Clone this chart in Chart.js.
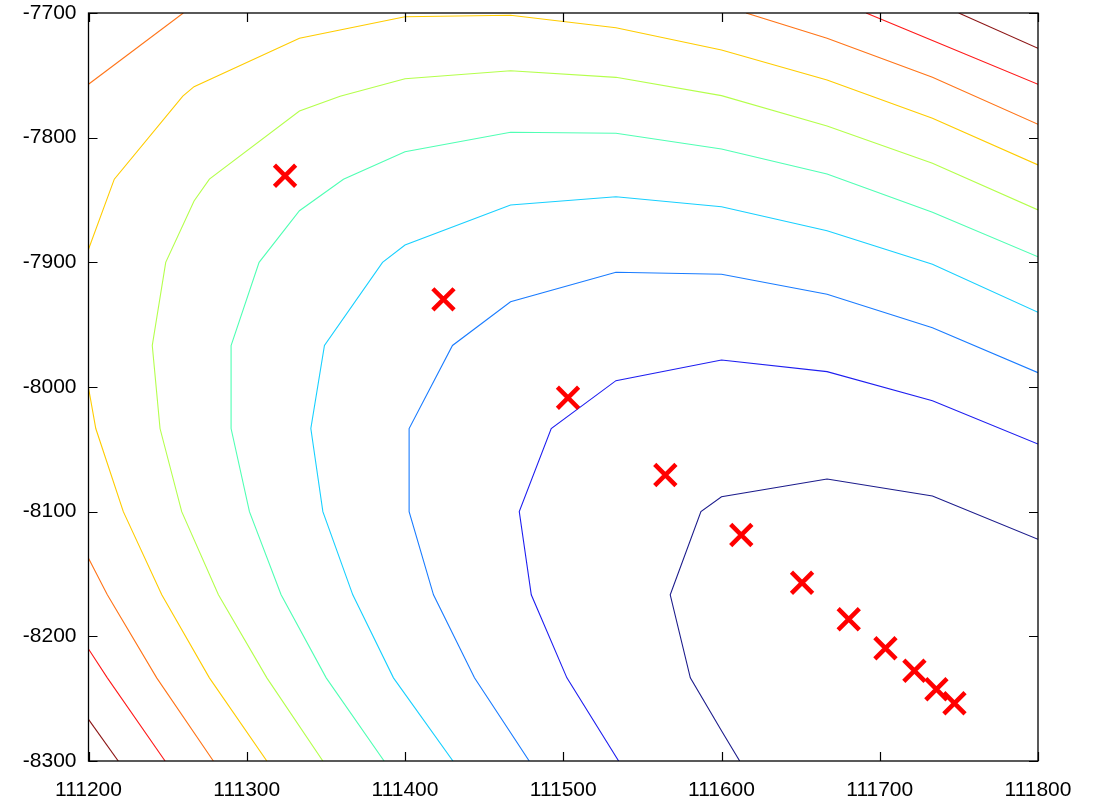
<!DOCTYPE html>
<html>
<head>
<meta charset="utf-8">
<script src="https://cdn.jsdelivr.net/npm/chart.js@4/dist/chart.umd.min.js"></script>
<style>
  html, body { margin: 0; padding: 0; background: #ffffff; }
  #wrap { width: 1097px; height: 799px; }
</style>
</head>
<body>
<div id="wrap"><canvas id="c" width="1097" height="799"></canvas></div>
<script>
// Contour levels, from the deepest (navy) to the highest (dark red); each level is one or more polylines
const navyLine = [[111611.5,-8300],[111600,-8275.7],[111580.3,-8233.3],[111567.6,-8166.7],[111587,-8100],[111600,-8088],[111666.7,-8073.8],[111733.3,-8087.4],[111800,-8122.2]];
const blueLine = [[111535,-8300],[111502.3,-8233.3],[111479.8,-8166.7],[111472.2,-8100],[111492.4,-8033.3],[111533.3,-7994.9],[111600,-7978.3],[111666.7,-7987.7],[111733.3,-8011],[111800,-8045.7]];
const azureLine = [[111478.5,-8300],[111443.9,-8233.3],[111418,-8166.7],[111402.6,-8100],[111402.6,-8033.3],[111430,-7966.7],[111466.7,-7931.6],[111533.3,-7908],[111600,-7909.6],[111666.7,-7925.6],[111733.3,-7952.4],[111800,-7988.5]];
const cyanLine = [[111430.3,-8300],[111392.7,-8233.3],[111367,-8166.7],[111348.1,-8100],[111340.5,-8033.3],[111349.1,-7966.7],[111385.8,-7900],[111400,-7886.1],[111466.7,-7854],[111533.3,-7847.4],[111600,-7855.4],[111666.7,-7874.6],[111733.3,-7901.6],[111800,-7940.1]];
const aquaLine = [[111386.8,-8300],[111350.2,-8233.3],[111321.7,-8166.7],[111301.7,-8100],[111290.1,-8033.3],[111290.1,-7966.7],[111307.8,-7900],[111333.3,-7858.6],[111361.1,-7833.3],[111400,-7811.3],[111466.7,-7795.7],[111533.3,-7796.5],[111600,-7809.1],[111666.7,-7829.1],[111733.3,-7859.9],[111800,-7895.5]];
const limeLine = [[111348.1,-8300],[111312.7,-8233.3],[111282.1,-8166.7],[111258.9,-8100],[111245.2,-8033.3],[111240.3,-7966.7],[111248.8,-7900],[111266.7,-7850.8],[111276.4,-7833.3],[111333.3,-7778.6],[111359,-7766.7],[111400,-7752.7],[111466.7,-7746.3],[111533.3,-7751.6],[111600,-7766.3],[111666.7,-7790.6],[111733.3,-7820.6],[111800,-7858]];
const yellowUpper = [[111200,-7889.5],[111216.3,-7833.3],[111259.6,-7766.7],[111266.7,-7759.1],[111333.3,-7720.3],[111400,-7703],[111466.7,-7701.8],[111533.3,-7711.8],[111600,-7729.7],[111666.7,-7753.7],[111733.3,-7784.5],[111800,-7821.9]];
const yellowLower = [[111200,-8000.6],[111204.6,-8033.3],[111222,-8100],[111246.3,-8166.7],[111276.4,-8233.3],[111312.7,-8300]];
const orangeTopLeft = [[111200,-7757.2],[111259.9,-7700]];
const orangeTopRight = [[111615.5,-7700],[111666.7,-7720.3],[111733.3,-7751.6],[111800,-7789.3]];
const orangeLower = [[111200,-8137.4],[111211.9,-8166.7],[111243.1,-8233.3],[111278.9,-8300]];
const redTop = [[111691.4,-7700],[111733.3,-7722],[111800,-7757.2]];
const redLower = [[111200,-8210.2],[111211.9,-8233.3],[111248.4,-8300]];
const darkRedTop = [[111749.9,-7700],[111800,-7728.3]];
const darkRedLower = [[111200,-8266.6],[111218.8,-8300]];

// Sampled positions (red crosses)
const markerX = [111324.2, 111424.3, 111503.0, 111564.5, 111612.5, 111650.9, 111680.4, 111703.6, 111721.9, 111735.8, 111747.2];
const markerY = [-7830.5, -7929.7, -8008.6, -8070.6, -8118.7, -8157.0, -8186.3, -8209.6, -8227.6, -8242.5, -8253.7];

// Axis ticks
const xTicks = [111200, 111300, 111400, 111500, 111600, 111700, 111800];
const yTicks = [-8300, -8200, -8100, -8000, -7900, -7800, -7700];

const contourSets = [
  { pts: navyLine, color: '#1c1c8c' },
  { pts: blueLine, color: '#1e1ef0' },
  { pts: azureLine, color: '#1a7cff' },
  { pts: cyanLine, color: '#18d0ff' },
  { pts: aquaLine, color: '#50ffb4' },
  { pts: limeLine, color: '#b4ff4c' },
  { pts: yellowUpper, color: '#ffcc00' },
  { pts: yellowLower, color: '#ffcc00' },
  { pts: orangeTopLeft, color: '#ff7418' },
  { pts: orangeTopRight, color: '#ff7418' },
  { pts: orangeLower, color: '#ff7418' },
  { pts: redTop, color: '#ff1a1a' },
  { pts: redLower, color: '#ff1a1a' },
  { pts: darkRedTop, color: '#8c1414' },
  { pts: darkRedLower, color: '#8c1414' }
];

const datasets = [{
  label: 'markers',
  data: markerX.map((x, i) => ({ x: x, y: markerY[i] })),
  showLine: false,
  pointStyle: 'crossRot',
  pointRadius: 15,
  pointHoverRadius: 15,
  borderColor: '#ff0000',
  backgroundColor: '#ff0000',
  pointBorderWidth: 4.5,
  borderWidth: 4.5
}];
contourSets.forEach((c, i) => {
  datasets.push({
    label: 'level' + i,
    data: c.pts.map(p => ({ x: p[0], y: p[1] })),
    showLine: true,
    borderColor: c.color,
    borderWidth: 1.1,
    pointRadius: 0,
    tension: 0,
    fill: false
  });
});

// Frame around the plot with inward ticks on all four sides
const frameTicks = {
  id: 'frameTicks',
  afterDatasetsDraw(chart) {
    const { ctx, chartArea: a, scales } = chart;
    const len = 9;
    ctx.save();
    ctx.strokeStyle = '#000000';
    ctx.lineWidth = 1.2;
    ctx.beginPath();
    xTicks.forEach(v => {
      const px = Math.round(scales.x.getPixelForValue(v)) + 0.5;
      ctx.moveTo(px, a.bottom); ctx.lineTo(px, a.bottom - len);
      ctx.moveTo(px, a.top); ctx.lineTo(px, a.top + len);
    });
    yTicks.forEach(v => {
      const py = Math.round(scales.y.getPixelForValue(v)) + 0.5;
      ctx.moveTo(a.left, py); ctx.lineTo(a.left + len, py);
      ctx.moveTo(a.right, py); ctx.lineTo(a.right - len, py);
    });
    ctx.stroke();
    ctx.lineWidth = 1.3;
    ctx.strokeRect(a.left, a.top, a.right - a.left, a.bottom - a.top);
    ctx.restore();
  }
};

const fontFamily = '"Liberation Sans", Arial, Helvetica, sans-serif';
const xFont = { family: fontFamily, size: 21 };
// tiny line height keeps the top label from pushing the plot area down
const yFont = { family: fontFamily, size: 21, lineHeight: 0.02 };

new Chart(document.getElementById('c'), {
  type: 'scatter',
  data: { datasets: datasets },
  options: {
    responsive: false,
    animation: false,
    events: [],
    layout: { autoPadding: false, padding: { top: 13, right: 59, left: 0, bottom: 0 } },
    plugins: { legend: { display: false }, tooltip: { enabled: false } },
    scales: {
      x: {
        type: 'linear',
        min: 111200, max: 111800,
        afterBuildTicks: s => { s.ticks = xTicks.map(v => ({ value: v })); },
        afterFit: s => { s.height = 38; },
        grid: { display: false, drawTicks: false },
        border: { display: false },
        ticks: { color: '#000000', font: xFont, padding: 17, maxRotation: 0, callback: v => String(v) }
      },
      y: {
        type: 'linear',
        min: -8300, max: -7700,
        afterBuildTicks: s => { s.ticks = yTicks.map(v => ({ value: v })); },
        afterFit: s => { s.width = 88.5; },
        grid: { display: false, drawTicks: false },
        border: { display: false },
        ticks: { color: '#000000', font: yFont, padding: 12, callback: v => String(v) }
      }
    }
  },
  plugins: [frameTicks]
});
</script>
</body>
</html>
